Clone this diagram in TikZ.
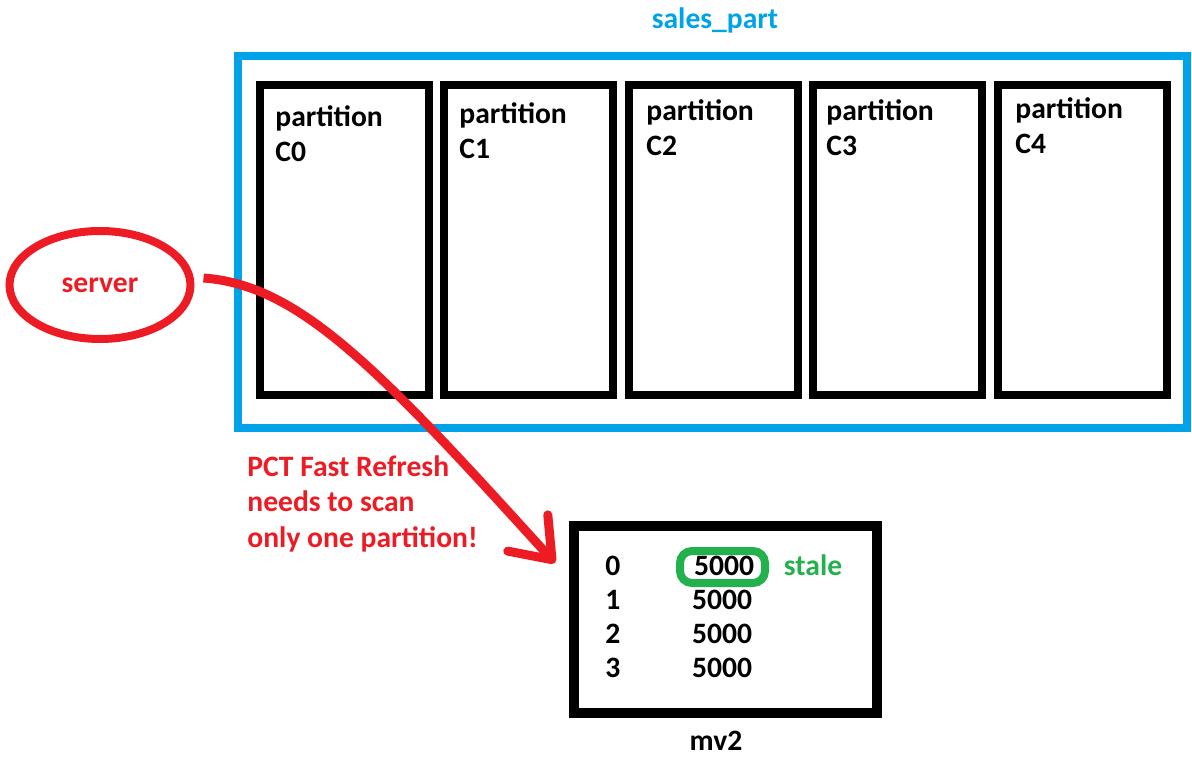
\documentclass[tikz,border=0pt]{standalone}
\usepackage{fontspec}
\setmainfont{Carlito}
\usetikzlibrary{shapes.geometric,arrows.meta}
\definecolor{bcol}{RGB}{0,162,232}
\definecolor{rcol}{RGB}{237,28,36}
\definecolor{gcol}{RGB}{34,177,76}
\tikzset{every picture/.style={x=.5pt,y=-.5pt}}
\tikzset{txt/.style={font=\bfseries\fontsize{14.8}{17.8}\selectfont,inner sep=0}}
\tikzset{part/.style={draw,line width=4pt,minimum width=84.5pt,minimum height=155pt}}
\tikzset{plabel/.style={txt,anchor=north west,align=left}}
\tikzset{edge/.style={rcol,line width=4.5pt,-{Straight Barb[length=18pt,width=27pt,round]}}}

\begin{document}
\begin{tikzpicture}
\useasboundingbox (0,0) rectangle (1192,758);

\node [txt,bcol,anchor=base] (title) at (715,29) {sales\_part};
\node [draw,bcol,line width=4pt,minimum width=474.5pt,minimum height=186pt] (sales) at (712.5,242) {};

\node [part] (p0) at (344.5,240) {};
\node [part] (p1) at (528.5,240) {};
\node [part] (p2) at (713.5,240) {};
\node [part] (p3) at (897.5,240) {};
\node [part] (p4) at (1082.5,240) {};

\node [plabel] (l0) at (275,105) {partition\\C0};
\node [plabel] (l1) at (459,102) {partition\\C1};
\node [plabel] (l2) at (646,99) {partition\\C2};
\node [plabel] (l3) at (826,99) {partition\\C3};
\node [plabel] (l4) at (1015,97) {partition\\C4};

\node [txt,rcol,ellipse,draw,line width=4pt,minimum width=90.5pt,minimum height=54pt] (srv) at (100,285) {server};

\node [txt,rcol,anchor=north west,align=left] (note) at (247,455) {PCT Fast Refresh\\needs to scan\\only one partition!};

\node [draw,line width=5pt,minimum width=151.5pt,minimum height=93.5pt] (mv) at (725.5,619.5) {};
\node [draw,gcol,line width=4pt,rounded corners=6pt,minimum width=42.5pt,minimum height=16pt] (hl) at (722.5,567) {};

\node [txt,anchor=base west] (k0) at (605,575) {0};
\node [txt,anchor=base west] (k1) at (605,609) {1};
\node [txt,anchor=base west] (k2) at (605,643) {2};
\node [txt,anchor=base west] (k3) at (605,677) {3};

\node [txt,anchor=base] (v0) at (724,575) {5000};
\node [txt,anchor=base] (v1) at (722,609) {5000};
\node [txt,anchor=base] (v2) at (722,643) {5000};
\node [txt,anchor=base] (v3) at (722,677) {5000};

\node [txt,gcol,anchor=base] (st) at (813,575) {stale};
\node [txt,anchor=base] (name) at (716,750) {mv2};

\coordinate (tip) at (555,563);
\draw [edge] ([xshift=4.5pt,yshift=3.5pt]srv.east) .. controls (300,285) and (380,370) .. (tip);
\end{tikzpicture}
\end{document}
